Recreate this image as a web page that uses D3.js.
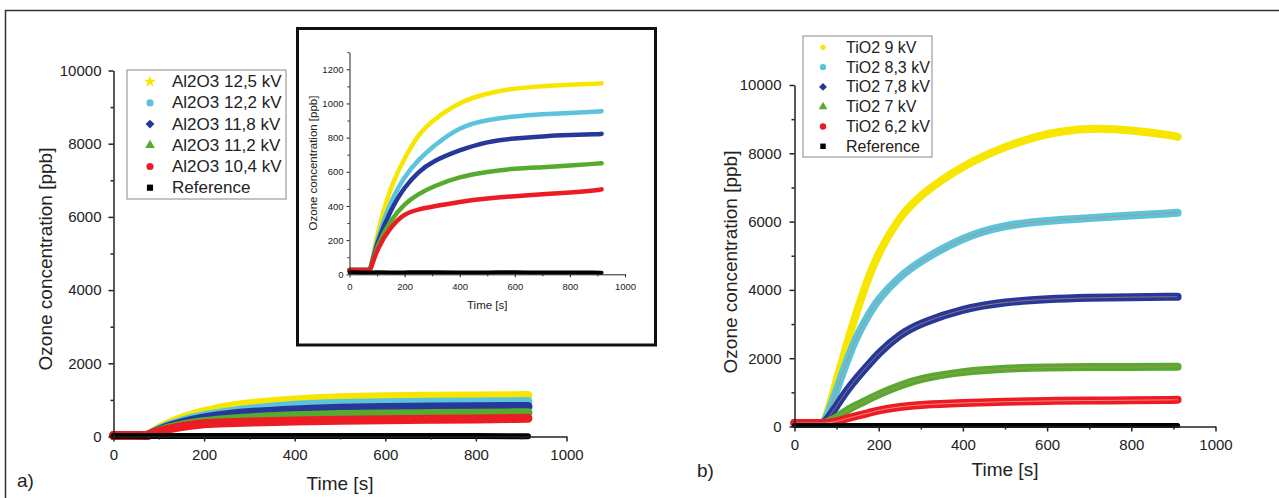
<!DOCTYPE html>
<html>
<head>
<meta charset="utf-8">
<script src="https://cdn.jsdelivr.net/npm/d3@7"></script>
<style>
  body { margin: 0; background: #fff; }
  svg { display: block; font-family: "Liberation Sans", Arial, sans-serif; }
  .axis path, .axis line { stroke: #222; }
  .axis text { fill: #222; }
</style>
</head>
<body>
<svg id="chart" width="1279" height="498"></svg>
<script>
// ---- data ----
// panel a) Al2O3 (same runs appear in the inset)
const timeA = [0, 68, 72, 78, 100, 150, 200, 250, 300, 400, 500, 600, 700, 800, 900, 915];
const al125 = [25, 25, 25, 40, 240, 520, 680, 820, 900, 1010, 1060, 1090, 1100, 1110, 1115, 1118];
const al122 = [25, 25, 25, 38, 210, 430, 575, 670, 745, 865, 905, 925, 937, 945, 952, 955];
const al118 = [25, 25, 25, 36, 190, 380, 513, 600, 660, 728, 777, 796, 808, 815, 820, 822];
const al112 = [25, 25, 25, 34, 170, 320, 415, 470, 513, 572, 601, 620, 626, 636, 648, 650];
const al104 = [25, 25, 25, 32, 150, 280, 357, 380, 396, 425, 445, 458, 468, 478, 492, 497];
const alRef = [12, 10, 10, 11, 12, 10, 11, 13, 12, 10, 11, 12, 10, 11, 10, 9];

// panel b) TiO2
const timeB = [0, 66, 72, 100, 125, 150, 175, 200, 250, 300, 400, 500, 600, 700, 800, 900, 910];
const ti90 = [100, 100, 110, 1350, 2450, 3450, 4350, 5100, 6150, 6800, 7650, 8200, 8600, 8750, 8680, 8520, 8480];
const ti83 = [100, 100, 105, 1050, 1950, 2700, 3250, 3750, 4400, 4850, 5550, 5900, 6030, 6100, 6180, 6250, 6260];
const ti78 = [100, 100, 102, 600, 1070, 1450, 1800, 2150, 2700, 3030, 3450, 3650, 3730, 3770, 3790, 3800, 3800];
const ti70 = [100, 100, 100, 250, 490, 640, 790, 950, 1200, 1410, 1610, 1700, 1730, 1740, 1745, 1750, 1750];
const ti62 = [100, 100, 100, 140, 240, 320, 390, 480, 580, 640, 690, 730, 750, 760, 770, 780, 785];
const tiRef = [30, 28, 29, 30, 32, 30, 28, 30, 31, 29, 30, 32, 30, 29, 30, 28, 28];

const labelsA = ["Al2O3 12,5 kV", "Al2O3 12,2 kV", "Al2O3 11,8 kV", "Al2O3 11,2 kV", "Al2O3 10,4 kV", "Reference"];
const labelsB = ["TiO2 9 kV", "TiO2 8,3 kV", "TiO2 7,8 kV", "TiO2 7 kV", "TiO2 6,2 kV", "Reference"];

const colors = ["#f6e600", "#5cc3dc", "#26399a", "#56ab2f", "#ec1c24", "#000000"];
const diamond = d3.symbolDiamond2 || d3.symbolDiamond;
const symbolsA = [d3.symbolStar, d3.symbolCircle, diamond, d3.symbolTriangle, d3.symbolCircle, d3.symbolSquare];
const symbolsB = [d3.symbolCircle, d3.symbolCircle, diamond, d3.symbolTriangle, d3.symbolCircle, d3.symbolSquare];
const symSizeB = [22, 32, 40, 32, 32, 30];
const symSizeA = [45, 40, 50, 40, 40, 38];

const seriesA = [al125, al122, al118, al112, al104, alRef];
const seriesB = [ti90, ti83, ti78, ti70, ti62, tiRef];

const svg = d3.select("#chart");

// figure frame (top and left edges only)
svg.append("path")
    .attr("d", "M5.5,498 L5.5,10.5 L1279,10.5")
    .attr("fill", "none")
    .attr("stroke", "#333")
    .attr("stroke-width", 1.5);

// generic panel with major/minor ticks
function drawPanel(g, p) {
    const x = d3.scaleLinear().domain([0, 1000]).range([p.x0, p.x1]);
    const y = d3.scaleLinear().domain([0, p.yMax]).range([p.yb, p.yt]);

    const line = d3.line()
        .x((d, i) => x(p.time[i]))
        .y(d => y(d))
        .curve(d3.curveBasis);

    p.series.forEach((s, k) => {
        g.append("path")
            .datum(s)
            .attr("d", line)
            .attr("fill", "none")
            .attr("stroke", colors[k])
            .attr("stroke-width", k === 5 ? p.refWidth : p.lineWidth)
            .attr("stroke-linecap", "round")
            .attr("stroke-linejoin", "round");
        if (p.centerLines && k > 0 && k < 5) {
            g.append("path")
                .datum(s)
                .attr("d", line)
                .attr("fill", "none")
                .attr("stroke", k === 4 ? "#ffb3a8" : "#c9866a")
                .attr("stroke-opacity", 0.7)
                .attr("stroke-width", 1);
        }
    });

    const fmt = d3.format("d");

    // x axis
    const xMinor = g.append("g").attr("class", "axis")
        .attr("transform", `translate(0,${p.yb})`)
        .call(d3.axisBottom(x).tickValues(d3.range(100, 1000, 200)).tickSize(p.minor).tickFormat(""));
    xMinor.select(".domain").remove();
    xMinor.selectAll("line").attr("stroke-width", p.axisW);

    const xAxis = g.append("g").attr("class", "axis")
        .attr("transform", `translate(0,${p.yb})`)
        .call(d3.axisBottom(x).tickValues(d3.range(0, 1001, 200)).tickSize(p.major).tickSizeOuter(0).tickPadding(p.xPad).tickFormat(fmt));
    xAxis.select(".domain").attr("stroke-width", p.axisW);
    xAxis.selectAll("line").attr("stroke-width", p.axisW);
    xAxis.selectAll("text").attr("font-size", p.tickFont).attr("font-family", null);

    // y axis
    const yMinor = g.append("g").attr("class", "axis")
        .attr("transform", `translate(${p.x0},0)`)
        .call(d3.axisLeft(y).tickValues(d3.range(p.yStep / 2, p.yMax + 1, p.yStep)).tickSize(p.minor).tickFormat(""));
    yMinor.select(".domain").remove();
    yMinor.selectAll("line").attr("stroke-width", p.axisW);

    const yAxis = g.append("g").attr("class", "axis")
        .attr("transform", `translate(${p.x0},0)`)
        .call(d3.axisLeft(y).tickValues(d3.range(0, p.yLabelMax + 1, p.yStep)).tickSize(p.major).tickSizeOuter(0).tickPadding(p.yPad).tickFormat(fmt));
    yAxis.select(".domain").attr("stroke-width", p.axisW);
    yAxis.selectAll("line").attr("stroke-width", p.axisW);
    yAxis.selectAll("text").attr("font-size", p.tickFont).attr("font-family", null);

    // titles
    g.append("text")
        .attr("x", (p.x0 + p.x1) / 2)
        .attr("y", p.xTitleY)
        .attr("text-anchor", "middle")
        .attr("font-size", p.titleFont)
        .attr("fill", "#222")
        .text("Time [s]");
    g.append("text")
        .attr("transform", `translate(${p.yTitleX},${p.yTitleC}) rotate(-90)`)
        .attr("text-anchor", "middle")
        .attr("dominant-baseline", "central")
        .attr("font-size", p.titleFont)
        .attr("fill", "#222")
        .text("Ozone concentration [ppb]");
}

function drawLegend(g, l) {
    g.append("rect")
        .attr("x", l.x).attr("y", l.y)
        .attr("width", l.w).attr("height", l.h)
        .attr("fill", "#fff")
        .attr("stroke", "#888")
        .attr("stroke-width", 1);
    l.labels.forEach((lab, i) => {
        const cy = l.y + l.first + i * l.step;
        g.append("path")
            .attr("d", d3.symbol().type(l.symbols[i]).size(l.sizes[i])())
            .attr("transform", `translate(${l.symX},${cy})`)
            .attr("fill", colors[i]);
        g.append("text")
            .attr("x", l.textX)
            .attr("y", cy)
            .attr("dominant-baseline", "central")
            .attr("font-size", l.font)
            .attr("fill", "#222")
            .text(lab);
    });
}

// panel a)
const gA = svg.append("g");
drawPanel(gA, {
    time: timeA, series: seriesA,
    x0: 113.5, x1: 566.5, yb: 436.5, yt: 70.5, yMax: 10000, yLabelMax: 10000, yStep: 2000,
    lineWidth: 9, refWidth: 6, major: 5, minor: 3, axisW: 1.5,
    xPad: 8, yPad: 7, tickFont: 15, titleFont: 19,
    xTitleY: 490, yTitleX: 45, yTitleC: 259
});
drawLegend(gA, {
    x: 127, y: 70, w: 159, h: 129, first: 11.7, step: 21.2,
    symX: 150, textX: 172, font: 17, sizes: symSizeA,
    labels: labelsA, symbols: symbolsA
});

// inset (zoom of panel a)
const gI = svg.append("g");
gI.append("rect")
    .attr("x", 297.5).attr("y", 28.5)
    .attr("width", 358).attr("height", 316.5)
    .attr("fill", "#fff")
    .attr("stroke", "#111")
    .attr("stroke-width", 3);
drawPanel(gI, {
    time: timeA, series: seriesA,
    x0: 349.5, x1: 625, yb: 274.3, yt: 52.2, yMax: 1300, yLabelMax: 1200, yStep: 200,
    lineWidth: 4.5, refWidth: 4, major: 3, minor: 2, axisW: 1,
    xPad: 6, yPad: 3, tickFont: 9.5, titleFont: 11.5,
    xTitleY: 309, yTitleX: 313, yTitleC: 163
});

// panel b)
const gB = svg.append("g");
drawPanel(gB, {
    time: timeB, series: seriesB,
    x0: 794.5, x1: 1215.5, yb: 426.5, yt: 85, yMax: 10000, yLabelMax: 10000, yStep: 2000,
    lineWidth: 8, refWidth: 5, major: 5, minor: 3, axisW: 1.5, centerLines: true,
    xPad: 8, yPad: 8, tickFont: 15, titleFont: 19,
    xTitleY: 476, yTitleX: 730, yTitleC: 262
});
drawLegend(gB, {
    x: 803, y: 36, w: 129, h: 121, first: 11.3, step: 19.8,
    symX: 823, textX: 846, font: 16, sizes: symSizeB,
    labels: labelsB, symbols: symbolsB
});

// panel letters
svg.append("text").attr("x", 17).attr("y", 487).attr("font-size", 19).attr("fill", "#222").text("a)");
svg.append("text").attr("x", 697).attr("y", 477).attr("font-size", 19).attr("fill", "#222").text("b)");
</script>
</body>
</html>
